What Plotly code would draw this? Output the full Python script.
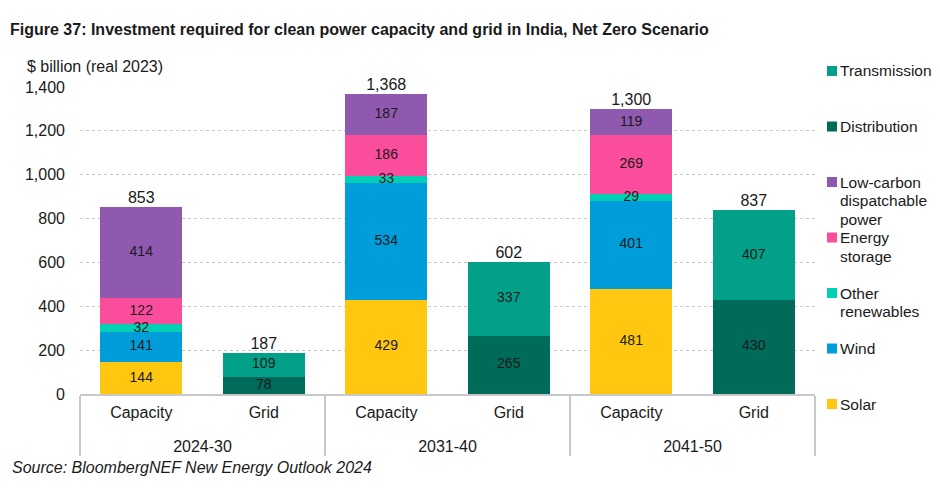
import numpy as np
import plotly.graph_objects as go

periods = ["2024-30", "2024-30", "2031-40", "2031-40", "2041-50", "2041-50"]
kinds = ["Capacity", "Grid", "Capacity", "Grid", "Capacity", "Grid"]

solar = [144, 0, 429, 0, 481, 0]
wind = [141, 0, 534, 0, 401, 0]
other_renewables = [32, 0, 33, 0, 29, 0]
energy_storage = [122, 0, 186, 0, 269, 0]
low_carbon = [414, 0, 187, 0, 119, 0]
distribution = [0, 78, 0, 265, 0, 430]
transmission = [0, 109, 0, 337, 0, 407]
totals = [853, 187, 1368, 602, 1300, 837]

series = [
    ("Solar", solar, "#FFC70F"),
    ("Wind", wind, "#009DDB"),
    ("Other renewables", other_renewables, "#00D1B5"),
    ("Energy storage", energy_storage, "#FA4D9C"),
    ("Low-carbon dispatchable power", low_carbon, "#9059B0"),
    ("Distribution", distribution, "#006B59"),
    ("Transmission", transmission, "#02A088"),
]

legend_items = [
    (["Transmission"], "#02A088"),
    (["Distribution"], "#006B59"),
    (["Low-carbon", "dispatchable", "power"], "#9059B0"),
    (["Energy", "storage"], "#FA4D9C"),
    (["Other", "renewables"], "#00D1B5"),
    (["Wind"], "#009DDB"),
    (["Solar"], "#FFC70F"),
]

FONT = "Liberation Sans, Arial, sans-serif"
TXT = "#1a1a1a"
# pad the first-level labels so the period row sits lower, as in the reference
kind_labels = [k + "<br><span style='font-size:2px'> </span>" for k in kinds]
x = [periods, kind_labels]

fig = go.Figure()
base = np.zeros(len(kinds))
lab_x0, lab_x1, lab_y, lab_t = [], [], [], []
for name, vals, color in series:
    v = np.array(vals, dtype=float)
    fig.add_trace(go.Bar(x=x, y=vals, name=name, marker=dict(color=color, line=dict(width=0)),
                         showlegend=False, hoverinfo="skip"))
    for i, val in enumerate(vals):
        if val > 0:
            lab_x0.append(periods[i]); lab_x1.append(kind_labels[i])
            lab_y.append(base[i] + val / 2); lab_t.append(str(val))
    base += v

fig.add_trace(go.Scatter(x=[lab_x0, lab_x1], y=lab_y, text=lab_t, mode="text",
                         textposition="middle center", cliponaxis=False,
                         textfont=dict(family=FONT, size=14, color=TXT),
                         showlegend=False, hoverinfo="skip"))
fig.add_trace(go.Scatter(x=x, y=totals, text=[f"{t:,}" for t in totals], mode="text",
                         textposition="top center", cliponaxis=False,
                         textfont=dict(family=FONT, size=16, color=TXT),
                         showlegend=False, hoverinfo="skip"))

OFF = 8  # page body margin offset
W, H = 940 - 2 * OFF, 494 - 2 * OFF
ML, MT = 80 - OFF, 87 - OFF
MB = H - (394 - OFF)
MR = W - (815 - OFF)

fig.update_layout(
    barmode="stack",
    bargap=0.33,
    width=W, height=H,
    margin=dict(l=ML, r=MR, t=MT, b=MB, autoexpand=False),
    paper_bgcolor="white", plot_bgcolor="white",
    font=dict(family=FONT, size=16, color=TXT),
    showlegend=False,
)
fig.update_xaxes(
    type="multicategory", automargin=False,
    showline=True, linecolor="#c8c8c8", linewidth=1.5,
    showdividers=True, dividercolor="#c8c8c8", dividerwidth=1.5,
    ticks="outside", tickcolor="#c8c8c8", ticklen=0,
    tickfont=dict(family=FONT, size=16, color=TXT),
    ticklabelstandoff=3,
    showgrid=False,
)
fig.update_yaxes(
    range=[0, 1400], dtick=200, tickformat=",", automargin=False,
    showgrid=True, gridcolor="#c8c8c8", griddash="dot", gridwidth=1,
    zeroline=False, showline=False,
    tickfont=dict(family=FONT, size=16, color=TXT),
    ticklabelstandoff=14,
)

pw = W - ML - MR
ph = H - MT - MB


def px_to_paper(px, py):
    return (px - OFF - ML) / pw, (H - MB - (py - OFF)) / ph


def add_text(text, px, py, size=16):
    xx, yy = px_to_paper(px, py)
    fig.add_annotation(text=text, x=xx, y=yy, xref="paper", yref="paper", showarrow=False,
                       xanchor="left", yanchor="middle", align="left",
                       font=dict(family=FONT, size=size, color=TXT))


add_text("<b>Figure 37: Investment required for clean power capacity and grid in India, Net Zero Scenario</b>", 8, 30, size=16)
add_text("$ billion (real 2023)", 25, 67)
add_text("<i>Source: BloombergNEF New Energy Outlook 2024</i>", 10, 467)

y0 = 71
step = 55.5
line_h = 18.6
for i, (lines, color) in enumerate(legend_items):
    py = y0 + i * step
    x0, yb = px_to_paper(827, py + 5)
    x1, yt = px_to_paper(837, py - 5)
    fig.add_shape(type="rect", xref="paper", yref="paper", x0=x0, x1=x1, y0=yb, y1=yt,
                  fillcolor=color, line=dict(width=0))
    for j, ln in enumerate(lines):
        add_text(ln, 838, py + j * line_h, size=15.5)

fig.write_html("out.html")
